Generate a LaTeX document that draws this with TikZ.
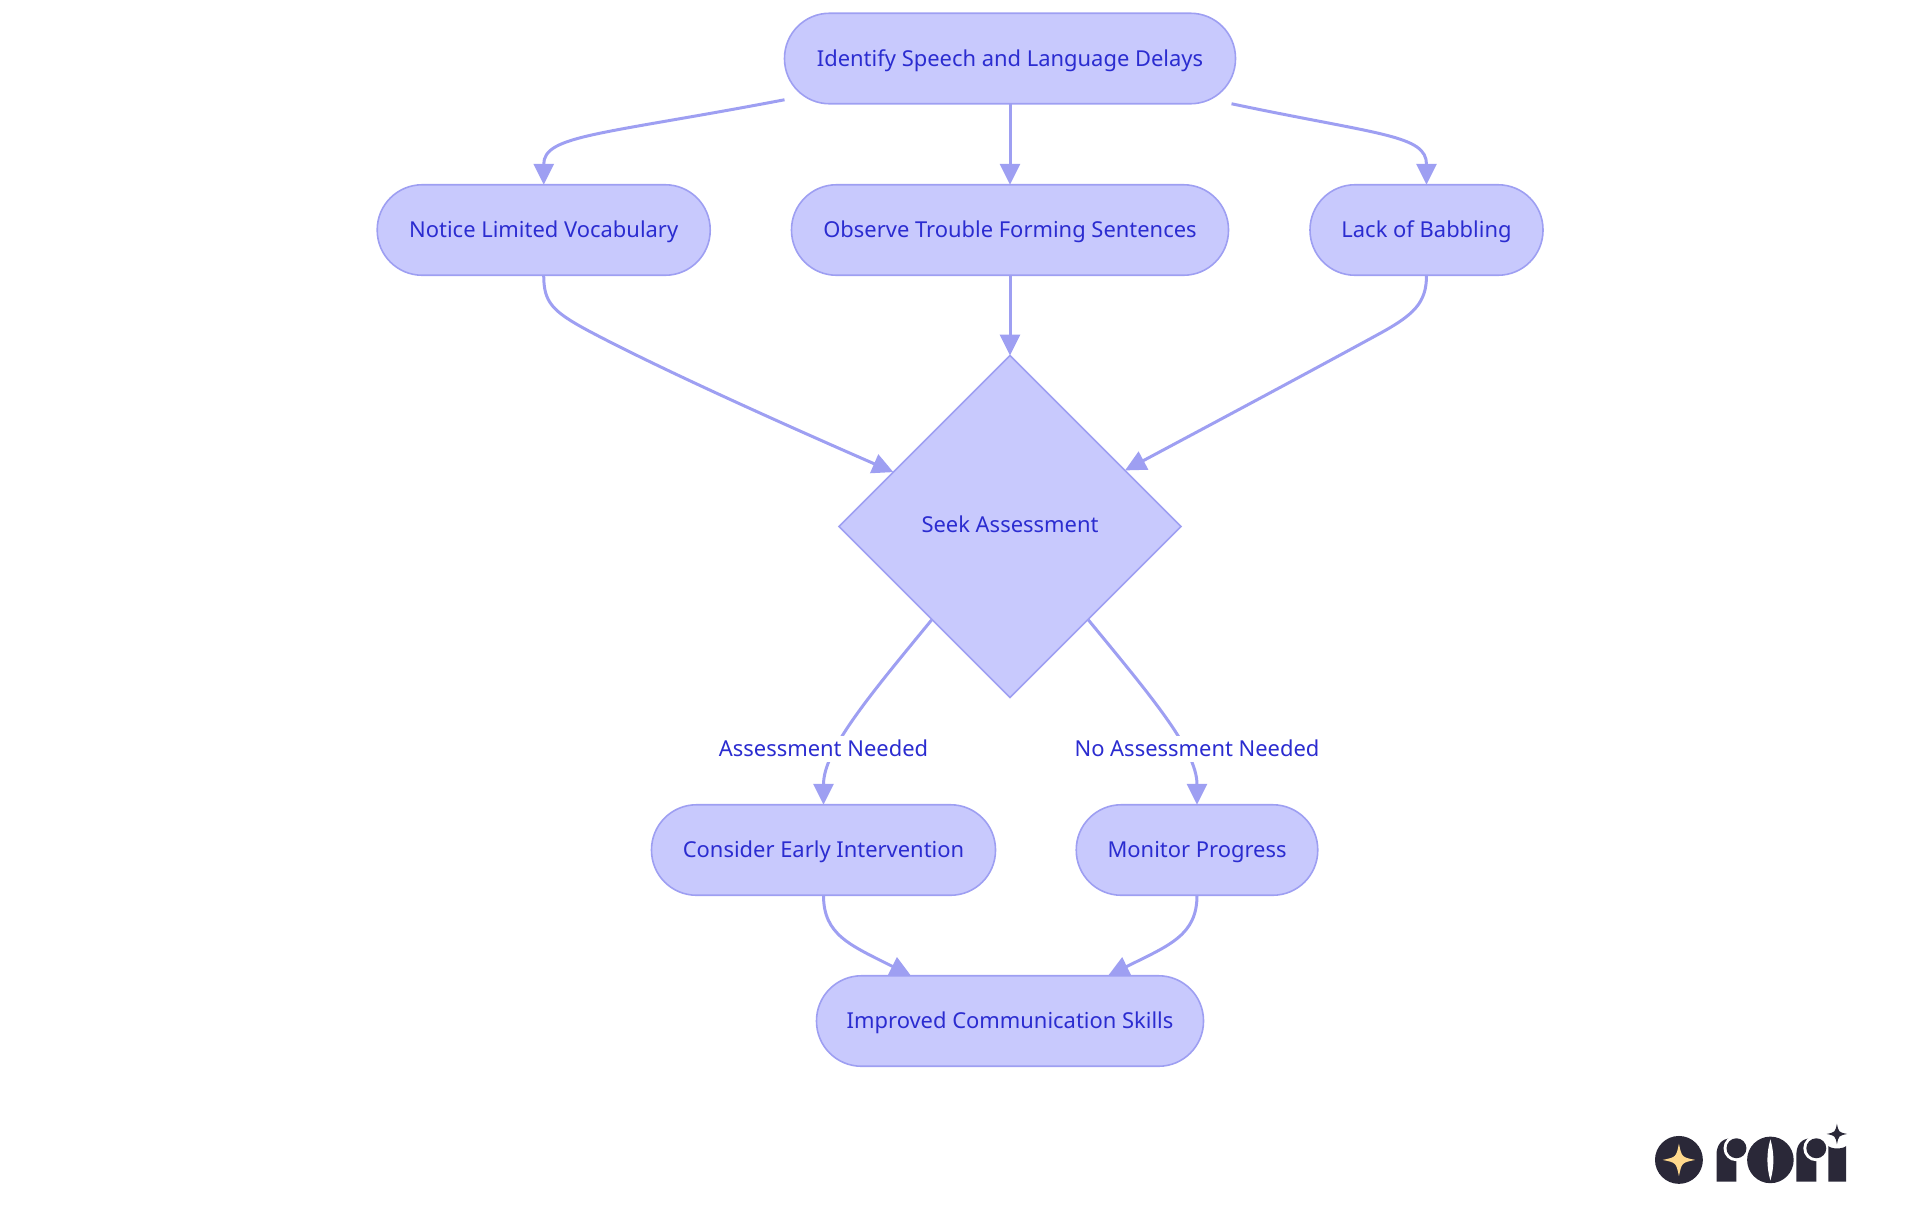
\documentclass[tikz,border=0pt]{standalone}
\usepackage{fontspec}
\setmainfont{Noto Sans}
\usepackage{tikz}
\usetikzlibrary{arrows.meta,shapes.geometric}

\definecolor{boxfill}{HTML}{C8C9FD}
\definecolor{boxline}{HTML}{9E9FF2}
\definecolor{boxtext}{HTML}{2B2CD0}
\definecolor{logodark}{HTML}{2A2838}
\definecolor{logostar}{HTML}{FFD98C}

\tikzset{
    pill/.style={rectangle,rounded corners=0.45cm,minimum height=0.905cm,inner sep=0pt,outer sep=0pt,
        draw=boxline,line width=0.016cm,fill=boxfill,text=boxtext,font=\fontsize{6.24}{8}\selectfont,
        text height=5pt,text depth=0.7pt},
    choice/.style={diamond,aspect=1,minimum width=3.42cm,minimum height=3.42cm,inner sep=0pt,outer sep=0pt,
        draw=boxline,line width=0.016cm,fill=boxfill,text=boxtext,font=\fontsize{6.24}{8}\selectfont,
        text height=5pt,text depth=1.8pt},
    flow/.style={draw=boxline,line width=0.03cm,-{Triangle[length=0.21cm,width=0.20cm,fill=boxline]}},
    edgelabel/.style={fill=white,inner sep=0.8pt,outer sep=0pt,text=boxtext,font=\fontsize{6.24}{8}\selectfont,
        text height=5pt,text depth=0.7pt}
}

% four pointed star of the logo
\newcommand{\logospark}[4]{
    \fill [#4] (#1,#2-#3) .. controls (#1+0.17*#3,#2-0.17*#3) .. (#1+#3,#2)
        .. controls (#1+0.17*#3,#2+0.17*#3) .. (#1,#2+#3)
        .. controls (#1-0.17*#3,#2+0.17*#3) .. (#1-#3,#2)
        .. controls (#1-0.17*#3,#2-0.17*#3) .. cycle;
}
% letter r of the logo
\newcommand{\logor}[1]{
    \fill [logodark] (#1,215) -- (#1,135) .. controls (#1,105) and (#1+15,85) .. (#1+45,85) -- (#1+60,85) -- (#1+60,215) -- cycle;
    \fill [white] (#1+60,115) circle (39);
    \fill [white] (#1+62,150) rectangle (#1+100,220);
    \fill [logodark] (#1+60,115) circle (30);
}

\begin{document}
\begin{tikzpicture}[x=1cm,y=-1cm]
    \useasboundingbox (0,0) rectangle (19.2,12.15);

    \begin{scope}[every node/.style={pill}]
        \node [minimum width=4.51cm] (identify)  at (10.10,0.585) {Identify Speech and Language Delays};
        \node [minimum width=3.33cm] (vocab)     at (5.437,2.30)  {Notice Limited Vocabulary};
        \node [minimum width=4.37cm] (sentences) at (10.10,2.30)  {Observe Trouble Forming Sentences};
        \node [minimum width=2.33cm] (babbling)  at (14.265,2.30) {Lack of Babbling};
        \node [minimum width=3.44cm] (early)     at (8.235,8.50)  {Consider Early Intervention};
        \node [minimum width=2.415cm] (monitor)  at (11.97,8.50)  {Monitor Progress};
        \node [minimum width=3.87cm] (improved)  at (10.10,10.21) {Improved Communication Skills};
    \end{scope}
    \node [choice] (seek) at (10.10,5.265) {Seek Assessment};

    \draw [flow] ([yshift=0.04cm]identify.south west) .. controls (6.00,1.35) and (5.437,1.35) .. (vocab.north);
    \draw [flow] (identify.south) -- (sentences.north);
    \draw [flow] ([xshift=-0.04cm]identify.south east) .. controls (13.80,1.35) and (14.265,1.35) .. (babbling.north);
    \draw [flow] (vocab.south) .. controls (5.437,3.02) and (5.52,3.11) .. (5.87,3.30)
        .. controls (6.60,3.69) and (7.90,4.27) .. (seek.155.8);
    \draw [flow] (sentences.south) -- (seek.north);
    \draw [flow] (babbling.south) .. controls (14.265,3.03) and (14.14,3.15) .. (13.77,3.35)
        .. controls (13.00,3.77) and (12.10,4.25) .. (seek.26.2);
    \draw [flow] (seek.230.8) .. controls (8.70,6.95) and (8.235,7.50) .. (early.north);
    \draw [flow] (seek.310.2) .. controls (11.50,6.95) and (11.97,7.50) .. (monitor.north);
    \draw [flow] (early.south) .. controls (8.235,9.35) and (8.50,9.45) .. ([xshift=-0.99cm]improved.north);
    \draw [flow] (monitor.south) .. controls (11.97,9.35) and (11.70,9.45) .. ([xshift=0.98cm]improved.north);

    \node [edgelabel] (needed)   at (8.235,7.49) {Assessment Needed};
    \node [edgelabel] (noneed)   at (11.97,7.49) {No Assessment Needed};

    % logo, in its own small units
    \begin{scope}[shift={(16.40,11.10)},x=0.003333cm,y=-0.003333cm]
        \fill [logodark] (117,150) circle (72);
        \logospark{117}{150}{49}{logostar}
        \logor{230}
        \fill [logodark] (392,150) circle (70);
        \fill [white] (392,88) .. controls (404,130) and (404,170) .. (392,212) .. controls (380,170) and (380,130) .. cycle;
        \logor{470}
        \fill [logodark] (566,215) -- (566,108) .. controls (575,118) and (610,118) .. (620,108) -- (620,215) -- cycle;
        \logospark{592}{72}{31}{logodark}
    \end{scope}
\end{tikzpicture}
\end{document}
